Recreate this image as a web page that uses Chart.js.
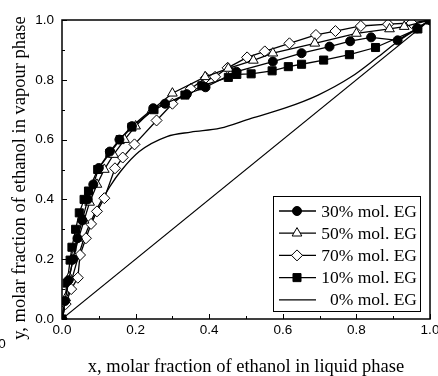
<!DOCTYPE html>
<html>
<head>
<meta charset="utf-8">
<script src="https://cdn.jsdelivr.net/npm/chart.js@4"></script>
<style>
  html, body { margin: 0; padding: 0; background: #fff; }
  #wrap { width: 438px; height: 376px; }
</style>
</head>
<body>
<div id="wrap"><canvas id="vle-chart" width="438" height="376"></canvas></div>
<script>
// x = liquid mole fraction of ethanol, y = vapour mole fraction
const x30 = [0, 0.008, 0.018, 0.03, 0.042, 0.055, 0.07, 0.085, 0.1, 0.13, 0.156, 0.19, 0.248, 0.28, 0.339, 0.39, 0.474, 0.573, 0.651, 0.727, 0.783, 0.84, 0.912, 0.965, 1];
const y30 = [0, 0.06, 0.13, 0.2, 0.27, 0.33, 0.40, 0.45, 0.505, 0.56, 0.60, 0.645, 0.705, 0.72, 0.752, 0.775, 0.827, 0.861, 0.889, 0.911, 0.929, 0.942, 0.932, 0.972, 1];

const x50 = [0, 0.01, 0.02, 0.032, 0.045, 0.06, 0.075, 0.095, 0.115, 0.14, 0.17, 0.2, 0.245, 0.3, 0.389, 0.452, 0.52, 0.573, 0.687, 0.80, 0.89, 0.93, 1];
const y50 = [0, 0.07, 0.14, 0.21, 0.27, 0.33, 0.39, 0.45, 0.5, 0.55, 0.6, 0.645, 0.70, 0.755, 0.81, 0.838, 0.865, 0.889, 0.922, 0.955, 0.97, 0.978, 1];

const x70 = [0, 0.01, 0.025, 0.043, 0.049, 0.065, 0.079, 0.095, 0.115, 0.144, 0.165, 0.197, 0.257, 0.3, 0.35, 0.391, 0.416, 0.45, 0.503, 0.551, 0.618, 0.69, 0.743, 0.812, 0.886, 0.95, 1];
const y70 = [0, 0.05, 0.10, 0.138, 0.214, 0.27, 0.318, 0.36, 0.404, 0.504, 0.54, 0.584, 0.664, 0.72, 0.77, 0.807, 0.81, 0.84, 0.875, 0.895, 0.922, 0.95, 0.963, 0.98, 0.986, 0.99, 1];

const x10 = [0, 0.014, 0.022, 0.027, 0.037, 0.047, 0.06, 0.072, 0.097, 0.13, 0.158, 0.19, 0.25, 0.334, 0.38, 0.452, 0.475, 0.514, 0.571, 0.615, 0.651, 0.711, 0.781, 0.852, 0.967, 1];
const y10 = [0, 0.12, 0.197, 0.24, 0.30, 0.355, 0.40, 0.428, 0.50, 0.555, 0.60, 0.642, 0.70, 0.749, 0.78, 0.808, 0.818, 0.82, 0.83, 0.844, 0.852, 0.866, 0.884, 0.908, 0.97, 1];

const x0 = [0, 0.02, 0.04, 0.06, 0.08, 0.1, 0.13, 0.16, 0.21, 0.285, 0.35, 0.43, 0.514, 0.605, 0.696, 0.786, 0.859, 0.918, 0.967, 1];
const y0 = [0, 0.1, 0.19, 0.27, 0.33, 0.38, 0.443, 0.495, 0.56, 0.61, 0.625, 0.638, 0.671, 0.705, 0.749, 0.81, 0.877, 0.933, 0.972, 1];

const xDiag = [0, 1];
const yDiag = [0, 1];

const seriesLabels = ['30% mol. EG', '50% mol. EG', '70% mol. EG', '10% mol. EG', '0% mol. EG'];
const axisTicks = [0, 0.2, 0.4, 0.6, 0.8, 1.0];

const pts = (xs, ys) => xs.map((x, i) => ({ x: x, y: ys[i] }));

function markerSet(label, xs, ys, style, filled, radius) {
  return {
    label: label,
    data: pts(xs, ys),
    borderColor: '#000',
    borderWidth: 1.3,
    pointStyle: style,
    pointRadius: radius,
    pointBorderWidth: 1,
    pointBorderColor: '#000',
    pointBackgroundColor: filled ? '#000' : '#fff',
    tension: 0,
    inLegend: true
  };
}

// frame, inward ticks, tick labels and axis titles
const axesPlugin = {
  id: 'axesPlugin',
  afterDraw(chart) {
    const { ctx, chartArea: a, scales } = chart;
    const sx = scales.x, sy = scales.y;
    ctx.save();
    ctx.strokeStyle = '#000';
    ctx.lineWidth = 1.5;
    ctx.strokeRect(a.left, a.top, a.right - a.left, a.bottom - a.top);

    ctx.lineWidth = 1;
    for (let k = 0; k <= 10; k++) {
      const v = k / 10;
      const len = k % 2 === 0 ? 5 : 3;
      const px = Math.round(sx.getPixelForValue(v)) + 0.5;
      const py = Math.round(sy.getPixelForValue(v)) + 0.5;
      ctx.beginPath();
      ctx.moveTo(px, a.bottom);
      ctx.lineTo(px, a.bottom - len);
      ctx.moveTo(a.left, py);
      ctx.lineTo(a.left + len, py);
      ctx.stroke();
    }

    ctx.fillStyle = '#000';
    ctx.font = '13.5px "Liberation Sans", Arial, sans-serif';
    ctx.textAlign = 'right';
    ctx.textBaseline = 'middle';
    axisTicks.forEach(v => ctx.fillText(v.toFixed(1), a.left - 8, sy.getPixelForValue(v)));
    ctx.textAlign = 'center';
    ctx.textBaseline = 'top';
    axisTicks.forEach(v => ctx.fillText(v.toFixed(1), sx.getPixelForValue(v), a.bottom + 5));
    ctx.textBaseline = 'middle';
    ctx.fillText('0', 2, 344);

    ctx.font = '18.5px "Liberation Serif", "Times New Roman", serif';
    ctx.fillText('x, molar fraction of ethanol in liquid phase', (a.left + a.right) / 2, 367);
    ctx.translate(20, 178);
    ctx.rotate(-Math.PI / 2);
    ctx.fillText('y, molar fraction of ethanol in vapour phase', 0, 0);
    ctx.restore();
  }
};

// legend with line + marker samples, boxed, bottom right of plot
const legendPlugin = {
  id: 'legendPlugin',
  afterDraw(chart) {
    const ctx = chart.ctx;
    const sets = chart.data.datasets.filter(d => d.inLegend);
    const box = { left: 273, top: 196, right: 420, bottom: 311 };
    ctx.save();
    ctx.fillStyle = '#fff';
    ctx.fillRect(box.left, box.top, box.right - box.left, box.bottom - box.top);
    ctx.strokeStyle = '#000';
    ctx.lineWidth = 1;
    ctx.strokeRect(box.left + 0.5, box.top + 0.5, box.right - box.left, box.bottom - box.top);
    ctx.font = '17.5px "Liberation Serif", "Times New Roman", serif';
    ctx.textAlign = 'right';
    ctx.textBaseline = 'middle';
    sets.forEach((d, i) => {
      const y = 211 + i * 22.2;
      ctx.strokeStyle = '#000';
      ctx.lineWidth = 1.3;
      ctx.beginPath();
      ctx.moveTo(279, y);
      ctx.lineTo(316, y);
      ctx.stroke();
      if (d.pointRadius > 0) {
        ctx.fillStyle = d.pointBackgroundColor;
        ctx.strokeStyle = '#000';
        ctx.lineWidth = 1;
        Chart.helpers.drawPoint(ctx, { pointStyle: d.pointStyle, radius: d.pointRadius, borderWidth: 1, rotation: 0 }, 297, y);
      }
      ctx.fillStyle = '#000';
      ctx.fillText(d.label, 417, y + 1);
    });
    ctx.restore();
  }
};

new Chart(document.getElementById('vle-chart'), {
  type: 'line',
  data: {
    datasets: [
      markerSet(seriesLabels[0], x30, y30, 'circle', true, 4.5),
      markerSet(seriesLabels[1], x50, y50, 'triangle', false, 5.6),
      markerSet(seriesLabels[2], x70, y70, 'rectRot', false, 5.5),
      markerSet(seriesLabels[3], x10, y10, 'rect', true, 5.7),
      {
        label: seriesLabels[4],
        data: pts(x0, y0),
        borderColor: '#000',
        borderWidth: 1.3,
        pointRadius: 0,
        cubicInterpolationMode: 'monotone',
        inLegend: true
      },
      {
        label: 'diagonal',
        data: pts(xDiag, yDiag),
        borderColor: '#000',
        borderWidth: 1.1,
        pointRadius: 0,
        inLegend: false
      }
    ]
  },
  options: {
    responsive: false,
    animation: false,
    layout: { padding: { left: 62, top: 20, right: 8, bottom: 57 } },
    plugins: {
      legend: { display: false },
      tooltip: { enabled: false }
    },
    scales: {
      x: { type: 'linear', min: 0, max: 1, display: false },
      y: { type: 'linear', min: 0, max: 1, display: false }
    }
  },
  plugins: [axesPlugin, legendPlugin]
});
</script>
</body>
</html>
